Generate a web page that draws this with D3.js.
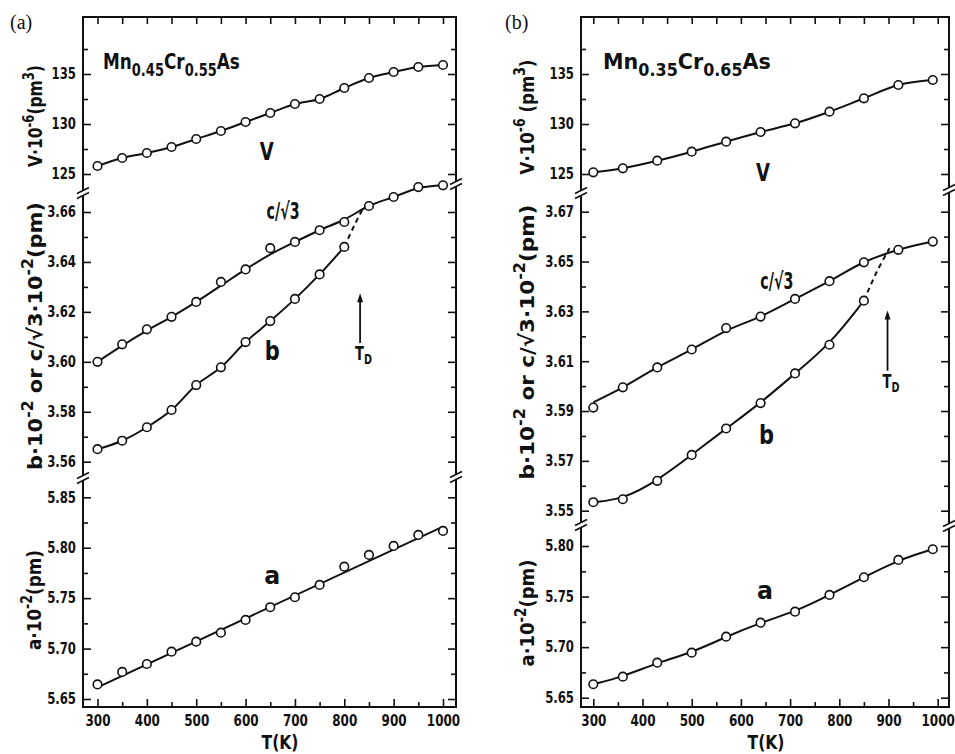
<!DOCTYPE html>
<html>
<head>
<meta charset="utf-8">
<script src="https://cdn.jsdelivr.net/npm/d3@7"></script>
<style>
  body { margin: 0; background: #fff; }
  svg text { font-family: "DejaVu Sans", sans-serif; font-weight: bold; fill: #111; }
</style>
</head>
<body>
<svg id="chart" width="955" height="754"></svg>
<script>
// ---- data, panel (a) Mn0.45Cr0.55As ----
const tempA = [300, 350, 400, 450, 500, 550, 600, 650, 700, 750, 800, 850, 900, 950, 1000];
const volA  = [125.8, 126.6, 127.1, 127.7, 128.5, 129.3, 130.2, 131.1, 132.0, 132.5, 133.6, 134.6, 135.2, 135.7, 135.9];
const cA    = [3.600, 3.607, 3.613, 3.618, 3.624, 3.632, 3.637, 3.6455, 3.648, 3.6527, 3.656, 3.6624, 3.666, 3.670, 3.6707];
const cFitA = [3.600, 3.6065, 3.6125, 3.618, 3.624, 3.6305, 3.637, 3.643, 3.648, 3.6527, 3.657, 3.6624, 3.666, 3.6695, 3.6707];
const tempBA = [300, 350, 400, 450, 500, 550, 600, 650, 700, 750, 800];
const bA    = [3.565, 3.5684, 3.5738, 3.5807, 3.5907, 3.5978, 3.6079, 3.6163, 3.6252, 3.635, 3.646];
const aA    = [5.6645, 5.6768, 5.6847, 5.6969, 5.7068, 5.7158, 5.7284, 5.741, 5.7509, 5.7631, 5.7812, 5.7929, 5.8018, 5.8127, 5.8167];
const aFitT = [300, 1000];
const aFitA = [5.6616, 5.821];
const dashTA = [800, 820, 838];
const dashA  = [3.646, 3.6545, 3.6615];

// ---- data, panel (b) Mn0.35Cr0.65As ----
const tempB = [300, 360, 430, 500, 570, 640, 710, 780, 850, 920, 990];
const volB  = [125.17, 125.57, 126.33, 127.23, 128.23, 129.2, 130.07, 131.23, 132.57, 133.9, 134.4];
const cB    = [3.5914, 3.5995, 3.6075, 3.6147, 3.6233, 3.6279, 3.635, 3.6421, 3.6497, 3.6547, 3.658];
const cFitB = [3.5935, 3.5995, 3.6075, 3.6147, 3.6222, 3.628, 3.635, 3.6421, 3.6497, 3.6547, 3.658];
const tempBB = [300, 360, 430, 500, 570, 640, 710, 780, 850];
const bB    = [3.5534, 3.5546, 3.562, 3.5724, 3.583, 3.5932, 3.6051, 3.6166, 3.6343];
const aB    = [5.6633, 5.6708, 5.6846, 5.6945, 5.7103, 5.7242, 5.7351, 5.7516, 5.7691, 5.7862, 5.7968];
const dashTB = [850, 876, 902];
const dashB  = [3.6343, 3.6458, 3.6553];

// ---- tick values ----
const xMajor = [300, 400, 500, 600, 700, 800, 900, 1000];
const xMinor = [350, 450, 550, 650, 750, 850, 950];
const xTop   = [300, 350, 400, 450, 500, 550, 600, 650, 700, 750, 800, 850, 900, 950, 1000];
const vMajor = [125, 130, 135];
const vMinor = [127.5, 132.5, 137.5];
const bMajorA = [3.56, 3.58, 3.60, 3.62, 3.64, 3.66];
const bMinorA = [3.57, 3.59, 3.61, 3.63, 3.65];
const aMajorA = [5.65, 5.70, 5.75, 5.80, 5.85];
const aMinorA = [5.675, 5.725, 5.775, 5.825];
const bMajorB = [3.55, 3.57, 3.59, 3.61, 3.63, 3.65, 3.67];
const bMinorB = [3.56, 3.58, 3.60, 3.62, 3.64, 3.66];
const aMajorB = [5.65, 5.70, 5.75, 5.80];
const aMinorB = [5.675, 5.725, 5.775];

const svg = d3.select("#chart");

// squeeze a text horizontally to a given width (the original lettering is very narrow)
function squeeze(sel, target, rot) {
    const w = sel.node().getComputedTextLength();
    const x = +sel.attr("x") || 0, y = +sel.attr("y") || 0;
    sel.attr("x", 0).attr("y", 0)
        .attr("transform", `translate(${x},${y})${rot ? " rotate(-90)" : ""} scale(${target / w},1)`);
}

function drawPanel(p) {
    const g = svg.append("g");
    const f = p.frame;
    const x = d3.scaleLinear().domain([300, 1000]).range(p.xRange);

    // frame
    g.append("rect").attr("x", f.l).attr("y", f.t)
        .attr("width", f.r - f.l).attr("height", f.b - f.t)
        .attr("fill", "none").attr("stroke", "#111").attr("stroke-width", 2);

    // x axes
    const bx = g.append("g").attr("transform", `translate(0,${f.b})`)
        .call(d3.axisBottom(x).tickValues(xMajor).tickSize(-8).tickPadding(8).tickFormat(d3.format("d")));
    bx.select(".domain").remove();
    bx.attr("font-size", 15);
    bx.selectAll("text").attr("transform", "scale(0.8,1)");
    g.append("g").attr("transform", `translate(0,${f.b})`)
        .call(d3.axisBottom(x).tickValues(xMinor).tickSize(-5).tickFormat(""))
        .call(a => a.select(".domain").remove());
    g.append("g").attr("transform", `translate(0,${f.t})`)
        .call(d3.axisTop(x).tickValues(xTop).tickSize(-7).tickFormat(""))
        .call(a => a.select(".domain").remove());

    // y sections
    p.sections.forEach(s => {
        const la = g.append("g").attr("transform", `translate(${f.l},0)`)
            .call(d3.axisLeft(s.y).tickValues(s.major).tickSize(-8).tickPadding(9).tickFormat(d3.format(s.fmt)));
        la.select(".domain").remove();
        la.attr("font-size", 15);
        la.selectAll("text").attr("transform", "scale(0.78,1)");
        g.append("g").attr("transform", `translate(${f.l},0)`)
            .call(d3.axisLeft(s.y).tickValues(s.minor).tickSize(-5).tickFormat(""))
            .call(a => a.select(".domain").remove());
        g.append("g").attr("transform", `translate(${f.r},0)`)
            .call(d3.axisRight(s.y).tickValues(s.major).tickSize(-8).tickFormat(""))
            .call(a => a.select(".domain").remove());
        g.append("g").attr("transform", `translate(${f.r},0)`)
            .call(d3.axisRight(s.y).tickValues(s.minor).tickSize(-5).tickFormat(""))
            .call(a => a.select(".domain").remove());
    });
    g.selectAll(".tick line").attr("stroke", "#111").attr("stroke-width", 1.6);

    // axis breaks
    const brk = (bxp, byp) => {
        g.append("rect").attr("x", bxp - 3).attr("y", byp - 2.5).attr("width", 6).attr("height", 5).attr("fill", "#fff");
        [-2.5, 2.5].forEach(d => g.append("line")
            .attr("x1", bxp - 6).attr("y1", byp + d + 3).attr("x2", bxp + 6).attr("y2", byp + d - 3)
            .attr("stroke", "#111").attr("stroke-width", 1.6));
    };
    p.breaksL.forEach(b => brk(f.l, b));
    p.breaksR.forEach(b => brk(f.r, b));

    // curves
    const line = (ys, curve) => d3.line().x(d => x(d[0])).y(d => ys(d[1])).curve(curve || d3.curveCatmullRom.alpha(0.5));
    p.curves.forEach(c => {
        g.append("path").datum(d3.zip(c.t, c.v))
            .attr("d", line(c.y, c.curve))
            .attr("fill", "none").attr("stroke", "#111").attr("stroke-width", 2)
            .attr("stroke-dasharray", c.dash || null);
    });
    p.points.forEach(c => {
        g.selectAll(null).data(d3.zip(c.t, c.v)).join("circle")
            .attr("cx", d => x(d[0])).attr("cy", d => c.y(d[1])).attr("r", 4.3)
            .attr("fill", "#fff").attr("stroke", "#111").attr("stroke-width", 1.6);
    });

    // T_D arrow
    const td = p.td;
    const ax = x(td.T), y0 = td.y(td.from), y1 = td.y(td.to);
    g.append("line").attr("x1", ax).attr("x2", ax).attr("y1", y0).attr("y2", y1 + 6)
        .attr("stroke", "#111").attr("stroke-width", 1.8);
    g.append("path").attr("d", `M${ax - 3},${y1 + 9} L${ax},${y1} L${ax + 3},${y1 + 9} Z`).attr("fill", "#111");
    const tdt = g.append("text").attr("x", ax - 5).attr("y", y0 + 17).attr("font-size", 19);
    tdt.append("tspan").text("T");
    tdt.append("tspan").attr("font-size", 14).attr("dy", 4).text("D");
    squeeze(tdt, 17);

    // curve labels
    p.labels.forEach(l => {
        const t = g.append("text").attr("x", x(l.T)).attr("y", l.y(l.v) + l.size * 0.36)
            .attr("text-anchor", "middle").attr("font-size", l.size).text(l.text);
        squeeze(t, l.w);
    });

    // composition
    const comp = g.append("text").attr("x", p.comp.x).attr("y", p.comp.y).attr("font-size", 22)
        .style("font-weight", "600");
    p.comp.parts.forEach((t, i) => {
        const sub = i % 2 === 1;
        comp.append("tspan").attr("font-size", sub ? 17 : 22)
            .attr("dy", i === 0 ? 0 : (sub ? 7 : -7)).text(t);
    });
    squeeze(comp, p.comp.w);

    // panel tag
    g.append("text").attr("x", p.tag.x).attr("y", p.tag.y).attr("font-size", 20)
        .style("font-family", "'Liberation Serif', 'DejaVu Serif', serif").style("font-weight", "normal")
        .text(p.tag.text);

    // x title
    const xt = g.append("text").attr("x", p.xTitle).attr("y", 749).attr("text-anchor", "middle")
        .attr("font-size", 19).text("T(K)");
    squeeze(xt, 37);

    // y titles
    p.yTitles.forEach(t => {
        const tx = g.append("text").attr("x", t.x).attr("y", t.y)
            .attr("text-anchor", "middle").attr("font-size", 20);
        t.parts.forEach(pt => {
            const ts = tx.append("tspan").text(pt[0]);
            if (pt[1]) ts.attr("font-size", 15).attr("baseline-shift", "super");
        });
        squeeze(tx, t.len, true);
    });
}

// ---- panel (a) ----
const yVA = d3.scaleLinear().domain([125, 135]).range([174, 74]);
const yBA = d3.scaleLinear().domain([3.56, 3.66]).range([461.7, 212]);
const yAA = d3.scaleLinear().domain([5.65, 5.85]).range([699, 497.3]);

drawPanel({
    frame: { l: 83, r: 456, t: 17, b: 707 },
    xRange: [97.5, 443],
    sections: [
        { y: yVA, major: vMajor, minor: vMinor, fmt: "d" },
        { y: yBA, major: bMajorA, minor: bMinorA, fmt: ".2f" },
        { y: yAA, major: aMajorA, minor: aMinorA, fmt: ".2f" }
    ],
    breaksL: [193, 478], breaksR: [184, 477],
    curves: [
        { t: tempA, v: volA, y: yVA },
        { t: tempA, v: cFitA, y: yBA },
        { t: tempBA, v: bA, y: yBA },
        { t: dashTA, v: dashA, y: yBA, dash: "5,4" },
        { t: aFitT, v: aFitA, y: yAA, curve: d3.curveLinear }
    ],
    points: [
        { t: tempA, v: volA, y: yVA },
        { t: tempA, v: cA, y: yBA },
        { t: tempBA, v: bA, y: yBA },
        { t: tempA, v: aA, y: yAA }
    ],
    td: { T: 832, from: 3.6075, to: 3.6275, y: yBA },
    labels: [
        { text: "V", T: 643, v: 127.3, y: yVA, size: 25, w: 14 },
        { text: "c/√3", T: 676, v: 3.6604, y: yBA, size: 23, w: 33 },
        { text: "b", T: 654, v: 3.6047, y: yBA, size: 27, w: 15 },
        { text: "a", T: 654, v: 5.773, y: yAA, size: 25, w: 16 }
    ],
    comp: { x: 103, y: 69, w: 137, parts: ["Mn", "0.45", "Cr", "0.55", "As"] },
    tag: { x: 10, y: 29, text: "(a)" },
    xTitle: 280,
    yTitles: [
        { x: 42, y: 116, len: 102, parts: [["V·10"], ["-6", 1], ["(pm"], ["3", 1], [")"]] },
        { x: 42, y: 336, len: 268, parts: [["b·10"], ["-2", 1], ["  or  c/√3·10"], ["-2", 1], ["(pm)"]] },
        { x: 41, y: 600, len: 100, parts: [["a·10"], ["-2", 1], ["(pm)"]] }
    ]
});

// ---- panel (b) ----
const yVB = d3.scaleLinear().domain([125, 135]).range([174, 74]);
const yBB = d3.scaleLinear().domain([3.55, 3.67]).range([510.7, 211.7]);
const yAB = d3.scaleLinear().domain([5.65, 5.80]).range([697.7, 546]);

drawPanel({
    frame: { l: 581, r: 949, t: 17, b: 707 },
    xRange: [593.3, 937.7],
    sections: [
        { y: yVB, major: vMajor, minor: vMinor, fmt: "d" },
        { y: yBB, major: bMajorB, minor: bMinorB, fmt: ".2f" },
        { y: yAB, major: aMajorB, minor: aMinorB, fmt: ".2f" }
    ],
    breaksL: [193, 525], breaksR: [190, 526],
    curves: [
        { t: tempB, v: volB, y: yVB },
        { t: tempB, v: cFitB, y: yBB },
        { t: tempBB, v: bB, y: yBB, curve: d3.curveBasis },
        { t: dashTB, v: dashB, y: yBB, dash: "5,4" },
        { t: tempB, v: aB, y: yAB, curve: d3.curveBasis }
    ],
    points: [
        { t: tempB, v: volB, y: yVB },
        { t: tempB, v: cB, y: yBB },
        { t: tempBB, v: bB, y: yBB },
        { t: tempB, v: aB, y: yAB }
    ],
    td: { T: 898, from: 3.6062, to: 3.6303, y: yBB },
    labels: [
        { text: "V", T: 645, v: 125.23, y: yVB, size: 25, w: 14 },
        { text: "c/√3", T: 673, v: 3.6424, y: yBB, size: 23, w: 33 },
        { text: "b", T: 652, v: 3.5807, y: yBB, size: 27, w: 15 },
        { text: "a", T: 649, v: 5.7565, y: yAB, size: 25, w: 16 }
    ],
    comp: { x: 603, y: 69, w: 168, parts: ["Mn", "0.35", "Cr", "0.65", "As"] },
    tag: { x: 505, y: 29, text: "(b)" },
    xTitle: 766,
    yTitles: [
        { x: 534, y: 117, len: 115, parts: [["V·10"], ["-6", 1], [" (pm"], ["3", 1], [")"]] },
        { x: 534, y: 342, len: 275, parts: [["b·10"], ["-2", 1], ["  or  c/√3·10"], ["-2", 1], ["(pm)"]] },
        { x: 534, y: 613, len: 107, parts: [["a·10"], ["-2", 1], ["(pm)"]] }
    ]
});
</script>
</body>
</html>
